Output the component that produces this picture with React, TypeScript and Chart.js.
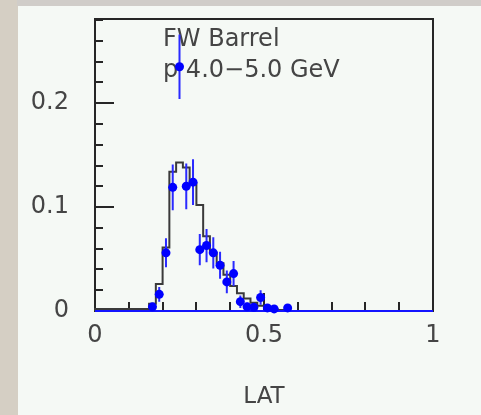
import React, { useEffect, useRef } from 'react';
import { Chart, registerables } from 'chart.js';

Chart.register(...registerables);

// Histogram (MC, step line): bin edges and contents
const histEdges = [0.16, 0.18, 0.2, 0.22, 0.24, 0.26, 0.28, 0.3, 0.32, 0.34, 0.36, 0.38, 0.4, 0.42, 0.44, 0.46, 0.48, 0.5, 0.52, 0.54, 0.56, 0.58];
const histValues = [0.002, 0.007, 0.026, 0.061, 0.134, 0.143, 0.138, 0.123, 0.102, 0.072, 0.056, 0.046, 0.035, 0.024, 0.017, 0.012, 0.008, 0.005, 0.004, 0.002, 0.001];

// Data points with errors
const pointX = [0.17, 0.19, 0.21, 0.23, 0.25, 0.27, 0.29, 0.31, 0.33, 0.35, 0.37, 0.39, 0.41, 0.43, 0.45, 0.47, 0.49, 0.51, 0.53, 0.57];
const pointY = [0.004, 0.016, 0.056, 0.119, 0.235, 0.12, 0.124, 0.059, 0.063, 0.056, 0.044, 0.028, 0.036, 0.009, 0.004, 0.0035, 0.013, 0.003, 0.002, 0.003];
const pointErr = [0.003, 0.007, 0.014, 0.022, 0.031, 0.022, 0.022, 0.015, 0.016, 0.015, 0.013, 0.011, 0.012, 0.006, 0.004, 0.004, 0.007, 0.003, 0.003, 0.003];
const binHalfWidth = 0.01;

// Axes
const xRange = [0, 1];
const yRange = [0, 0.281];
const xTickLabels = [0, 0.5, 1];
const yTickLabels = [0, 0.1, 0.2];
const xAxisTitle = 'LAT';
const textLines = ['FW Barrel', 'p 4.0\u22125.0 GeV'];

const FONT = '"DejaVu Sans", sans-serif';
const TEXT_COLOR = '#454545';
const FONT_SIZE = 24;

const rootPlugin = {
  id: 'rootFrame',
  beforeDatasetsDraw(chart: any) {
    const { ctx, chartArea, scales } = chart;
    const { left, right, top, bottom } = chartArea;
    const xs = scales.x;
    const ys = scales.y;
    ctx.save();
    // annotation text
    ctx.font = `${FONT_SIZE}px ${FONT}`;
    ctx.fillStyle = TEXT_COLOR;
    ctx.textAlign = 'left';
    ctx.textBaseline = 'alphabetic';
    ctx.fillText(textLines[0], 163, 46);
    ctx.fillText(textLines[1], 163, 77);
    // frame
    ctx.strokeStyle = '#262626';
    ctx.lineWidth = 2;
    ctx.strokeRect(left, top, right - left, bottom - top);
    // ticks
    ctx.beginPath();
    for (let i = 1; i < 10; i++) {
      const v = i / 10;
      const px = Math.round(xs.getPixelForValue(v));
      const len = i === 5 ? 18 : 9;
      ctx.moveTo(px, bottom);
      ctx.lineTo(px, bottom - len);
    }
    for (let i = 1; i <= 14; i++) {
      const v = i * 0.02;
      const py = Math.round(ys.getPixelForValue(v));
      const len = i % 5 === 0 ? 19 : 8;
      ctx.moveTo(left, py);
      ctx.lineTo(left + len, py);
    }
    ctx.stroke();
    ctx.restore();
  },
  afterDatasetDraw(chart: any, args: any) {
    if (args.index !== 1) return;
    const { ctx, scales } = chart;
    const xs = scales.x;
    const ys = scales.y;
    ctx.save();
    ctx.strokeStyle = '#2a2aff';
    ctx.lineWidth = 2;
    ctx.beginPath();
    for (let i = 0; i < pointX.length; i++) {
      const px = xs.getPixelForValue(pointX[i]);
      const py = ys.getPixelForValue(pointY[i]);
      const yLo = ys.getPixelForValue(Math.max(0, pointY[i] - pointErr[i]));
      const yHi = ys.getPixelForValue(pointY[i] + pointErr[i]);
      ctx.moveTo(px, yLo);
      ctx.lineTo(px, yHi);
      ctx.moveTo(xs.getPixelForValue(pointX[i] - binHalfWidth), py);
      ctx.lineTo(xs.getPixelForValue(pointX[i] + binHalfWidth), py);
    }
    ctx.stroke();
    ctx.restore();
  },
};

export default function App() {
  const canvasRef = useRef<HTMLCanvasElement | null>(null);

  useEffect(() => {
    const canvas = canvasRef.current;
    if (!canvas) return;

    const histData: { x: number; y: number }[] = [{ x: xRange[0], y: 0 }];
    for (let i = 0; i < histValues.length; i++) histData.push({ x: histEdges[i], y: histValues[i] });
    histData.push({ x: histEdges[histEdges.length - 1], y: 0 });
    histData.push({ x: xRange[1], y: 0 });

    const pts = pointX.map((x, i) => ({ x, y: pointY[i] }));

    const chart = new Chart(canvas, {
      type: 'scatter',
      data: {
        datasets: [
          {
            type: 'scatter',
            data: pts,
            backgroundColor: '#0000ff',
            borderWidth: 0,
            pointRadius: 4.5,
            order: 0,
            clip: false,
          } as any,
          {
            type: 'line',
            data: [{ x: xRange[0], y: 0 }, { x: xRange[1], y: 0 }],
            borderColor: '#1414ff',
            borderWidth: 2,
            pointRadius: 0,
            order: 1,
            clip: false,
          } as any,
          {
            type: 'line',
            data: histData,
            stepped: 'after',
            borderColor: '#3a3a3a',
            borderWidth: 2,
            pointRadius: 0,
            order: 2,
            clip: false,
          } as any,
        ],
      },
      options: {
        animation: false,
        responsive: false,
        devicePixelRatio: 1,
        layout: { padding: { top: 19, right: 48, left: 0, bottom: 0 } },
        plugins: { legend: { display: false }, tooltip: { enabled: false }, title: { display: false } },
        scales: {
          x: {
            type: 'linear',
            min: xRange[0],
            max: xRange[1],
            afterBuildTicks: (s: any) => {
              s.ticks = xTickLabels.map((v) => ({ value: v }));
            },
            afterFit: (s: any) => {
              s.height = 104;
              s.paddingLeft = 0;
              s.paddingRight = 0;
            },
            grid: { display: false, drawTicks: false },
            border: { display: false },
            ticks: {
              padding: 10,
              color: TEXT_COLOR,
              font: { family: FONT, size: FONT_SIZE },
              maxRotation: 0,
              callback: (v: any) => String(v),
            },
            title: {
              display: true,
              text: xAxisTitle,
              color: TEXT_COLOR,
              font: { family: FONT, size: 23 },
              padding: { top: 0, bottom: 4 },
            },
          },
          y: {
            type: 'linear',
            min: yRange[0],
            max: yRange[1],
            afterBuildTicks: (s: any) => {
              s.ticks = yTickLabels.map((v) => ({ value: v }));
            },
            afterFit: (s: any) => {
              s.width = 95;
              s.paddingTop = 0;
              s.paddingBottom = 0;
            },
            grid: { display: false, drawTicks: false },
            border: { display: false },
            ticks: {
              padding: 26,
              color: TEXT_COLOR,
              font: { family: FONT, size: FONT_SIZE },
              callback: (v: any) => String(v),
            },
          },
        },
      } as any,
      plugins: [rootPlugin],
    });

    return () => chart.destroy();
  }, []);

  return (
    <div style={{ position: 'fixed', left: 0, top: 0, width: 481, height: 415, background: '#d5cfc4', overflow: 'hidden' }}>
      <div style={{ position: 'absolute', left: 17, top: 0, width: 464, height: 6, background: '#d0cdc9' }} />
      <div style={{ position: 'absolute', left: 18, top: 6, width: 463, height: 409, background: '#f5f9f5' }} />
      <canvas ref={canvasRef} width={481} height={415} style={{ position: 'absolute', left: 0, top: 0, width: 481, height: 415 }} />
    </div>
  );
}
